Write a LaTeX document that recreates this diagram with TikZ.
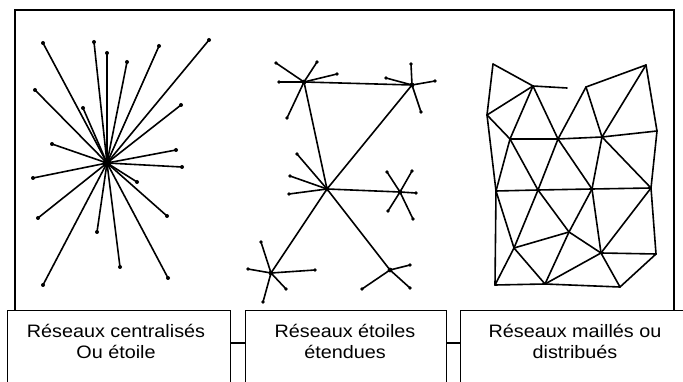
\documentclass[tikz,border=0pt]{standalone}
\usepackage{fontspec}
\setmainfont{Liberation Sans}
\usepackage{graphicx}
\tikzset{
  link/.style={line width=1.6pt, line cap=round},
  frameline/.style={line width=1.6pt},
  boxline/.style={line width=1.2pt},
  lbl/.style={inner sep=0pt, anchor=base, font=\fontsize{18}{21}\selectfont},
  tip/.style={fill=black}
}
\newcommand{\lbltxt}[1]{\scalebox{1.1}[1]{#1}}
\begin{document}
\begin{tikzpicture}[x=1pt,y=-1pt]
\useasboundingbox (0,0) rectangle (683,382);
% outer frame (open at bottom)
\draw[frameline] (15,310) -- (15,10) -- (674,10) -- (674,310);

% ---------------- centralised star ----------------
\coordinate (c0) at (107,163);
\foreach \n/\x/\y in {1/43/43,2/94/42,3/107/53,4/127/62,5/159/46,
  6/209/40,7/35/90,8/181/105,9/83/108,10/52/144,
  11/176/150,12/182/167,13/33/178,14/137/182,15/38/218,
  16/167/216,17/97/232,18/120/267,19/43/285,20/168/278}{
  \coordinate (s\n) at (\x,\y);
  \draw[link] (c0) -- (s\n);
  \fill[tip] (s\n) circle (2);
}
\fill[tip] (c0) circle (4.5);

% ---------------- extended stars ----------------
\coordinate (A) at (304,82);
\coordinate (B) at (412,85);
\coordinate (C) at (327,189);
\coordinate (D) at (400,192);
\coordinate (E) at (271,273);
\coordinate (F) at (390,270);
\draw[link] (A) -- (B) -- (C) -- (A);
\draw[link] (C) -- (D);
\draw[link] (C) -- (E);
\draw[link] (C) -- (F);
\foreach \h/\n/\x/\y in {A/1/276/63,A/2/317/62,A/3/337/74,A/4/279/82,A/5/287/118,
  B/1/386/78,B/2/411/64,B/3/435/81,B/4/421/112,
  C/1/297/154,C/2/290/176,C/3/289/194,
  D/1/387/172,D/2/412/171,D/3/416/193,D/4/388/211,D/5/413/219,
  E/1/261/242,E/2/248/269,E/3/315/270,E/4/286/289,E/5/263/302,
  F/1/410/265,F/2/362/289,F/3/410/288}{
  \coordinate (\h\n) at (\x,\y);
  \draw[link] (\h) -- (\h\n);
  \fill[tip] (\h\n) circle (1.9);
}
\foreach \h in {A,B,C,D,E,F}{\fill[tip] (\h) circle (2.4);}

% ---------------- mesh ----------------
\coordinate (v1) at (493,64);
\coordinate (v2) at (533,86);
\coordinate (vd) at (567,88);
\coordinate (v3) at (586,87);
\coordinate (v4) at (646,65);
\coordinate (v5) at (487,115);
\coordinate (v6) at (510,139);
\coordinate (v7) at (558,139);
\coordinate (v8) at (602,137);
\coordinate (v9) at (657,131);
\coordinate (v10) at (496,191);
\coordinate (v11) at (538,190);
\coordinate (v12) at (592,189);
\coordinate (v13) at (651,188);
\coordinate (v14) at (514,248);
\coordinate (v15) at (569,232);
\coordinate (v16) at (601,253);
\coordinate (v17) at (656,254);
\coordinate (v18) at (495,285);
\coordinate (v19) at (545,284);
\coordinate (v20) at (620,287);
\foreach \a/\b in {v1/v2,v1/v5,v2/v5,v2/v6,v2/v7,v2/vd,
  v3/v4,v3/v7,v3/v8,v4/v8,v4/v9,
  v5/v6,v5/v10,v6/v7,v7/v8,v8/v9,
  v6/v10,v6/v11,v7/v11,v7/v12,v8/v12,v8/v13,v9/v13,
  v10/v11,v11/v12,v12/v13,
  v10/v14,v10/v18,v11/v14,v11/v15,v12/v15,v12/v16,v13/v16,v13/v17,
  v14/v15,v15/v16,v15/v19,v16/v17,v16/v19,v16/v20,v17/v20,
  v14/v18,v14/v19,v18/v19,v19/v20}{
  \draw[link] (\a) -- (\b);
}

% ---------------- caption boxes ----------------
\node[draw, boxline, minimum width=223pt, minimum height=90pt, inner sep=0pt, anchor=north west] (b1) at (7,310) {};
\node[draw, boxline, minimum width=201pt, minimum height=90pt, inner sep=0pt, anchor=north west] (b2) at (245,310) {};
\node[draw, boxline, minimum width=240pt, minimum height=90pt, inner sep=0pt, anchor=north west] (b3) at (460,310) {};
\draw[boxline] ([yshift=-33pt]b1.north east) -- ([yshift=-33pt]b2.north west);
\draw[boxline] ([yshift=-33pt]b2.north east) -- ([yshift=-33pt]b3.north west);

\node[lbl] (t1a) at (116,337) {\lbltxt{Réseaux centralisés}};
\node[lbl] (t1b) at (116,358) {\lbltxt{Ou étoile}};
\node[lbl] (t2a) at (345,337) {\lbltxt{Réseaux étoiles}};
\node[lbl] (t2b) at (345,358) {\lbltxt{étendues}};
\node[lbl] (t3a) at (575,337) {\lbltxt{Réseaux maillés ou}};
\node[lbl] (t3b) at (575,358) {\lbltxt{distribués}};
\end{tikzpicture}
\end{document}
